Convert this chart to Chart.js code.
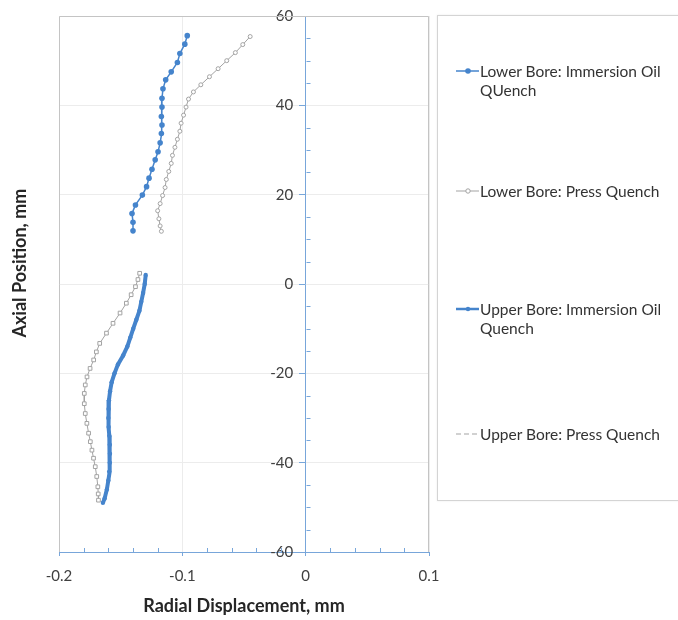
<!DOCTYPE html>
<html lang="en">
<head>
  <meta charset="UTF-8">
  <title>Radial Displacement vs Axial Position</title>
  <script src="https://cdn.jsdelivr.net/npm/chart.js"></script>
  <style>
    body {
      margin: 0;
      padding: 0;
      background: #fff;
      font-family: Lato, "Open Sans", sans-serif;
    }
    .wrap {
      position: relative;
      width: 678px;
      height: 620px;
    }
    .legend {
      position: absolute;
      left: 437px;
      top: 15px;
      width: 250px;
      height: 484px;
      border: 1px solid #d4d4d4;
      box-shadow: 0 0 2px rgba(0, 0, 0, 0.08);
      background: #fff;
    }
    .item {
      position: absolute;
      left: 17px;
      display: flex;
      align-items: flex-start;
      color: #333;
      font-size: 15.5px;
      line-height: 19px;
    }
    .item svg {
      flex: none;
      margin-top: 2px;
    }
    .item span {
      width: 200px;
    }
  </style>
</head>
<body>
  <div class="wrap">
    <canvas id="chart" width="678" height="620"></canvas>
    <div class="legend" id="legend"></div>
  </div>

  <script>
    // x = radial displacement (mm), y = axial position (mm)
    const lowerOilX = [-0.096, -0.098, -0.102, -0.104, -0.109, -0.1135, -0.1157, -0.1165, -0.1165, -0.117, -0.1165, -0.117, -0.118, -0.1197, -0.122, -0.1246, -0.127, -0.129, -0.1324, -0.138, -0.1408, -0.140, -0.140];
    const lowerOilY = [55.6, 53.7, 51.6, 49.6, 47.5, 45.7, 43.7, 41.6, 39.6, 37.5, 35.6, 33.7, 31.6, 29.6, 27.8, 25.7, 23.7, 21.8, 19.9, 17.7, 15.8, 13.8, 11.9];

    const lowerPressX = [-0.045, -0.051, -0.057, -0.064, -0.071, -0.078, -0.085, -0.091, -0.095, -0.097, -0.099, -0.101, -0.102, -0.104, -0.106, -0.108, -0.109, -0.111, -0.113, -0.114, -0.116, -0.118, -0.120, -0.119, -0.118, -0.117];
    const lowerPressY = [55.4, 53.6, 51.8, 50.0, 48.2, 46.4, 44.6, 43.0, 41.4, 39.6, 37.8, 36.0, 34.2, 32.4, 30.6, 28.8, 27.0, 25.2, 23.4, 21.6, 19.8, 18.0, 16.4, 14.6, 13.0, 11.8];

    const upperOilX = [-0.1297, -0.1305, -0.1318, -0.1333, -0.1348, -0.1373, -0.1398, -0.1422, -0.1446, -0.148, -0.1522, -0.155, -0.1573, -0.1586, -0.1595, -0.1598, -0.16, -0.1597, -0.1592, -0.1588, -0.1587, -0.1588, -0.1593, -0.16, -0.1612, -0.163, -0.1644];
    const upperOilY = [2.0, 0.0, -2.0, -4.0, -6.0, -8.0, -10.0, -12.0, -14.0, -16.0, -18.0, -20.0, -22.0, -24.0, -26.0, -28.0, -30.0, -32.0, -34.0, -36.0, -38.0, -40.0, -42.0, -44.0, -46.0, -48.0, -49.0];

    const upperPressX = [-0.1346, -0.136, -0.138, -0.1415, -0.1454, -0.1505, -0.1562, -0.1615, -0.167, -0.1697, -0.1719, -0.1748, -0.1773, -0.1787, -0.1795, -0.1795, -0.1787, -0.1774, -0.176, -0.1746, -0.1733, -0.172, -0.1706, -0.1694, -0.1685, -0.1682, -0.168];
    const upperPressY = [2.4, 1.0, -0.6, -2.4, -4.3, -6.5, -8.8, -11.0, -13.3, -15.2, -17.0, -18.9, -20.8, -22.6, -24.5, -26.8, -29.0, -31.2, -33.4, -35.3, -37.2, -39.0, -40.9, -43.1, -45.4, -47.0, -48.4];

    const seriesLabels = [
      "Lower Bore: Immersion Oil QUench",
      "Lower Bore: Press Quench",
      "Upper Bore: Immersion Oil Quench",
      "Upper Bore: Press Quench"
    ];

    const xTitle = "Radial Displacement, mm";
    const yTitle = "Axial Position, mm";

    const blue = "#4584cc";
    const gray = "#a3a3a3";
    const axisBlue = "#78a6da";
    const gridColor = "#ececec";

    const toPoints = (xs, ys) => xs.map((x, i) => ({ x: x, y: ys[i] }));

    // plot area frame + minor tick marks
    const frame = {
      id: "frame",
      beforeDatasetsDraw(chart) {
        const { ctx, chartArea: a, scales } = chart;
        ctx.save();
        ctx.strokeStyle = "#c4c4c4";
        ctx.lineWidth = 1;
        ctx.beginPath();
        ctx.moveTo(a.left + 0.5, a.bottom);
        ctx.lineTo(a.left + 0.5, a.top + 0.5);
        ctx.lineTo(a.right - 0.5, a.top + 0.5);
        ctx.lineTo(a.right - 0.5, a.bottom);
        ctx.stroke();

        ctx.strokeStyle = axisBlue;
        ctx.beginPath();
        for (let i = -10; i <= 5; i++) {
          if (i % 5 === 0) continue;
          const px = Math.round(scales.x.getPixelForValue(i * 0.02)) + 0.5;
          ctx.moveTo(px, a.bottom - 4);
          ctx.lineTo(px, a.bottom);
        }
        const x0 = Math.round(scales.x.getPixelForValue(0)) + 0.5;
        for (let v = -55; v <= 55; v += 5) {
          if (v % 20 === 0) continue;
          const py = Math.round(scales.y.getPixelForValue(v)) + 0.5;
          ctx.moveTo(x0, py);
          ctx.lineTo(x0 + 4, py);
        }
        ctx.stroke();
        ctx.restore();
      }
    };

    const ctx = document.getElementById("chart").getContext("2d");
    const chart = new Chart(ctx, {
      type: "scatter",
      data: {
        datasets: [
          {
            label: seriesLabels[0],
            data: toPoints(lowerOilX, lowerOilY),
            showLine: true,
            borderColor: blue,
            backgroundColor: blue,
            borderWidth: 1.5,
            pointRadius: 2.8,
            pointBorderWidth: 0
          },
          {
            label: seriesLabels[1],
            data: toPoints(lowerPressX, lowerPressY),
            showLine: true,
            borderColor: gray,
            backgroundColor: "#fff",
            borderWidth: 1,
            pointRadius: 2,
            pointBorderWidth: 1
          },
          {
            label: seriesLabels[2],
            data: toPoints(upperOilX, upperOilY),
            showLine: true,
            borderColor: blue,
            backgroundColor: blue,
            borderWidth: 4,
            pointRadius: 2.2,
            pointBorderWidth: 0
          },
          {
            label: seriesLabels[3],
            data: toPoints(upperPressX, upperPressY),
            showLine: true,
            borderColor: gray,
            backgroundColor: "#fff",
            borderWidth: 1,
            pointStyle: "rect",
            pointRadius: 2.6,
            pointBorderWidth: 1
          }
        ]
      },
      options: {
        responsive: false,
        animation: false,
        layout: { padding: { top: 16, right: 249, left: 0, bottom: 0 } },
        plugins: {
          legend: { display: false },
          tooltip: { enabled: false }
        },
        scales: {
          x: {
            type: "linear",
            position: "bottom",
            min: -0.2,
            max: 0.1,
            afterFit: (s) => { s.height = 68; },
            ticks: {
              stepSize: 0.1,
              padding: 11,
              color: "#404040",
              font: { family: "Lato", size: 15 },
              callback: (v) => String(Number(v.toFixed(1)))
            },
            grid: {
              color: gridColor,
              tickColor: axisBlue,
              tickLength: 4
            },
            border: { color: axisBlue },
            title: {
              display: true,
              text: xTitle,
              color: "#262626",
              font: { family: "Lato", size: 18, weight: "bold" },
              padding: { top: 4, bottom: 3 }
            }
          },
          y: {
            type: "linear",
            position: { x: 0 },
            min: -60,
            max: 60,
            afterFit: (s) => { s.width = 0; },
            ticks: {
              stepSize: 20,
              color: "#404040",
              font: { family: "Lato", size: 15 },
              callback: (v) => v + "\u2007 "
            },
            grid: {
              color: gridColor,
              tickColor: axisBlue,
              tickLength: 6
            },
            border: { color: axisBlue }
          },
          yTitle: {
            type: "linear",
            position: "left",
            min: -60,
            max: 60,
            afterFit: (s) => { s.width = 59; },
            ticks: { display: false },
            grid: { display: false },
            border: { display: false },
            title: {
              display: true,
              // leading spaces lift the label a little, as in the original
              text: "\u2007\u2007\u2007\u2007" + yTitle,
              color: "#262626",
              font: { family: "Lato", size: 18, weight: "bold" },
              padding: { top: 9, bottom: 0 }
            }
          }
        }
      },
      plugins: [frame]
    });

    // legend, spaced like the original
    const legendTops = [46, 166, 284, 409];
    const markers = [
      '<line x1="1" y1="7" x2="24" y2="7" stroke="' + blue + '" stroke-width="1.5"/><circle cx="13" cy="7" r="2.8" fill="' + blue + '"/>',
      '<line x1="1" y1="7" x2="24" y2="7" stroke="' + gray + '" stroke-width="1"/><circle cx="13" cy="7" r="2.2" fill="#fff" stroke="' + gray + '"/>',
      '<line x1="1" y1="7" x2="24" y2="7" stroke="' + blue + '" stroke-width="2.5"/><circle cx="13" cy="7" r="2.2" fill="' + blue + '"/>',
      '<line x1="1" y1="7" x2="24" y2="7" stroke="' + gray + '" stroke-width="1" stroke-dasharray="5 3"/>'
    ];
    const legendEl = document.getElementById("legend");
    chart.data.datasets.forEach((ds, i) => {
      const item = document.createElement("div");
      item.className = "item";
      item.style.top = legendTops[i] + "px";
      item.innerHTML = '<svg width="25" height="14">' + markers[i] + "</svg><span>" + ds.label + "</span>";
      legendEl.appendChild(item);
    });
  </script>
</body>
</html>
